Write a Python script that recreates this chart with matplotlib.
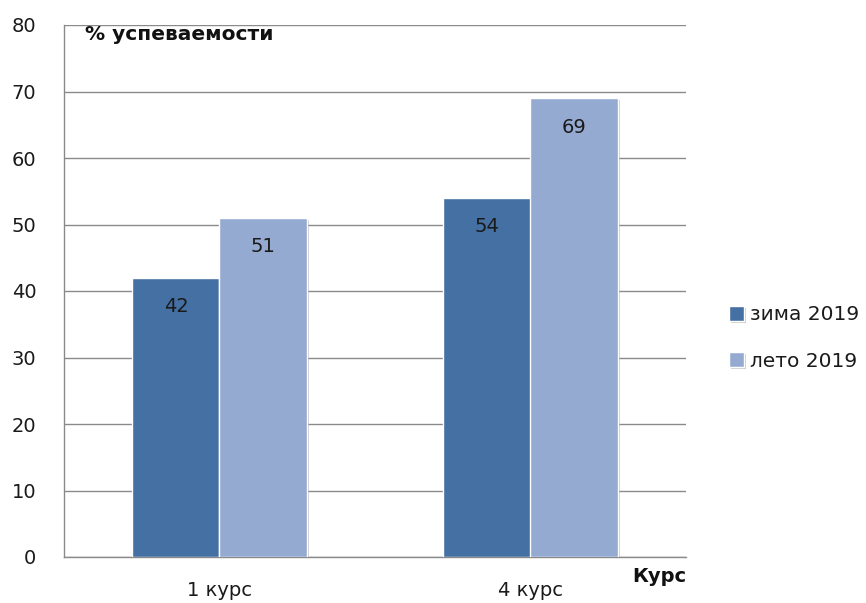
import matplotlib
matplotlib.use("Agg")
import matplotlib.pyplot as plt
import matplotlib.patheffects as pe
import numpy as np

categories = ["1 курс", "4 курс"]
series_names = ["зима 2019", "лето 2019"]
winter = [42, 54]
summer = [51, 69]
yticks = [0, 10, 20, 30, 40, 50, 60, 70, 80]

plt.rcParams['font.family'] = ['DejaVu Sans']

fig = plt.figure(figsize=(8.66, 6.03), dpi=100)
ax = fig.add_axes([64/866, 46/603, (686-64)/866, (557-25)/603])

colors = ["#4570A4", "#95AAD1"]
x = np.arange(len(categories))
w = 0.28
shadow = [pe.SimplePatchShadow(offset=(1.5, -1.5), shadow_rgbFace="#999999", alpha=0.5), pe.Normal()]
for i, (vals, name) in enumerate(zip([winter, summer], series_names)):
    xs = x + (i - 0.5) * w
    bars = ax.bar(xs, vals, width=w, color=colors[i], edgecolor="white", linewidth=1.0,
                  label=name, zorder=3)
    for b in bars:
        b.set_path_effects(shadow)
    for xx, v in zip(xs, vals):
        ax.annotate(str(v), (xx, v), xytext=(0, -29), textcoords="offset pixels",
                    ha="center", va="center", fontsize=14, color="#1a1a1a", zorder=4)

ax.set_xlim(-0.5, 1.5)
ax.set_ylim(0, 80)
ax.set_yticks(yticks)
ax.set_yticklabels([str(t) for t in yticks], fontsize=14, color="#1a1a1a")
ax.set_xticks(x)
ax.set_xticklabels(categories, fontsize=14, color="#1a1a1a")
ax.tick_params(axis="y", length=0, pad=20)
ax.tick_params(axis="x", length=0, pad=17)
ax.grid(axis="y", color="#8a8a8a", linewidth=1.0, zorder=0)
ax.set_axisbelow(True)
for s in ["top", "right"]:
    ax.spines[s].set_visible(False)
for s in ["left", "bottom"]:
    ax.spines[s].set_color("#8a8a8a")
    ax.spines[s].set_linewidth(1.0)

ax.text(0.034, 0.983, "% успеваемости", transform=ax.transAxes, fontsize=14.5,
        fontweight="bold", ha="left", va="center", color="#111111")
ax.text(1.0, -0.037, "Курс", transform=ax.transAxes, fontsize=14,
        fontweight="bold", ha="right", va="center", color="#111111")

leg = fig.legend(loc="center left", bbox_to_anchor=(729/866, 1 - 338/603), frameon=False,
                 fontsize=14.5, handlelength=0.75, handleheight=0.75, handletextpad=0.3,
                 labelspacing=1.35, borderaxespad=0, borderpad=0)
for t in leg.get_texts():
    t.set_color("#1a1a1a")

fig.savefig("out.png", dpi=100)
